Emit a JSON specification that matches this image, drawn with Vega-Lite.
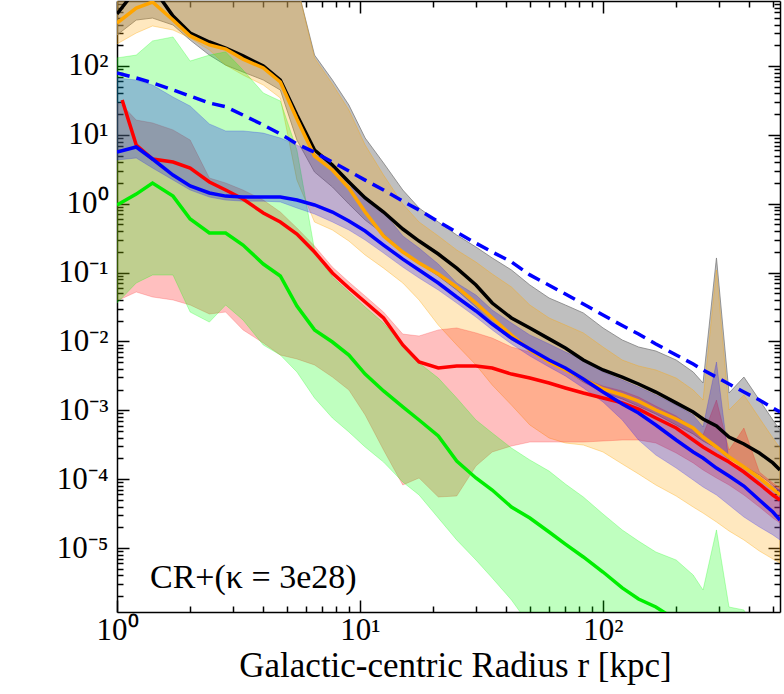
{
  "$schema": "https://vega.github.io/schema/vega-lite/v6.json",
  "description": "Radial profiles with 16-84 percentile bands, CR+ run",
  "width": 663,
  "height": 611,
  "autosize": "none",
  "padding": {"left": 117, "top": 1, "right": 4, "bottom": 82},
  "config": {
    "view": {"stroke": null},
    "font": "Liberation Serif",
    "axis": {"grid": false}
  },
  "datasets": {
    "black": [
      {"x": 1.0, "y": 569, "lo": 282, "hi": 20000},
      {"x": 1.2, "y": 1300, "lo": 465, "hi": 20000},
      {"x": 1.4, "y": 1400, "lo": 497, "hi": 20000},
      {"x": 1.7, "y": 532, "lo": 394, "hi": 20000},
      {"x": 2.0, "y": 301, "lo": 238, "hi": 20000},
      {"x": 2.4, "y": 223, "lo": 144, "hi": 20000},
      {"x": 2.8, "y": 182, "lo": 103, "hi": 20000},
      {"x": 3.3, "y": 140, "lo": 81.8, "hi": 20000},
      {"x": 4.0, "y": 100, "lo": 62.6, "hi": 13000},
      {"x": 4.7, "y": 62.6, "lo": 44.8, "hi": 4830},
      {"x": 5.5, "y": 19.4, "lo": 8.42, "hi": 1500},
      {"x": 6.5, "y": 6.03, "lo": 2.89, "hi": 144},
      {"x": 7.7, "y": 3.65, "lo": 1.75, "hi": 62.6},
      {"x": 9.0, "y": 2.07, "lo": 0.99, "hi": 27.1},
      {"x": 10.5, "y": 1.21, "lo": 0.58, "hi": 9.0},
      {"x": 12.5, "y": 0.758, "lo": 0.363, "hi": 3.9},
      {"x": 15, "y": 0.429, "lo": 0.206, "hi": 1.58},
      {"x": 17.5, "y": 0.287, "lo": 0.138, "hi": 0.866},
      {"x": 21, "y": 0.186, "lo": 0.0892, "hi": 0.542},
      {"x": 25, "y": 0.116, "lo": 0.0558, "hi": 0.351},
      {"x": 30, "y": 0.066, "lo": 0.0316, "hi": 0.235},
      {"x": 35, "y": 0.0361, "lo": 0.0173, "hi": 0.163},
      {"x": 42, "y": 0.0219, "lo": 0.0105, "hi": 0.109},
      {"x": 50, "y": 0.0157, "lo": 0.00751, "hi": 0.066},
      {"x": 60, "y": 0.0109, "lo": 0.0052, "hi": 0.0427},
      {"x": 70, "y": 0.00803, "lo": 0.00385, "hi": 0.0338},
      {"x": 83, "y": 0.00537, "lo": 0.00257, "hi": 0.0259},
      {"x": 100, "y": 0.00385, "lo": 0.00184, "hi": 0.0157},
      {"x": 120, "y": 0.00304, "lo": 0.00146, "hi": 0.0105},
      {"x": 140, "y": 0.00241, "lo": 0.00115, "hi": 0.0083},
      {"x": 165, "y": 0.00184, "lo": 0.000884, "hi": 0.00726},
      {"x": 200, "y": 0.00128, "lo": 0.000612, "hi": 0.00537},
      {"x": 235, "y": 0.000945, "lo": 0.000453, "hi": 0.0036},
      {"x": 258, "y": 0.000748, "lo": 0.000358, "hi": 0.00249},
      {"x": 293, "y": 0.000591, "lo": 0.000283, "hi": 0.163},
      {"x": 330, "y": 0.000409, "lo": 0.000196, "hi": 0.00178},
      {"x": 380, "y": 0.000324, "lo": 0.000155, "hi": 0.00304},
      {"x": 440, "y": 0.00024, "lo": 0.000115, "hi": 0.00141},
      {"x": 500, "y": 0.000172, "lo": 0.0000822, "hi": 0.000723},
      {"x": 535, "y": 0.000136, "lo": 0.0000651, "hi": 0.000517}
    ],
    "orange": [
      {"x": 1.0, "y": 421, "lo": 209, "hi": 20000},
      {"x": 1.2, "y": 695, "lo": 301, "hi": 20000},
      {"x": 1.4, "y": 849, "lo": 381, "hi": 20000},
      {"x": 1.7, "y": 465, "lo": 333, "hi": 20000},
      {"x": 2.0, "y": 273, "lo": 255, "hi": 20000},
      {"x": 2.4, "y": 202, "lo": 171, "hi": 20000},
      {"x": 2.8, "y": 176, "lo": 103, "hi": 20000},
      {"x": 3.3, "y": 126, "lo": 74, "hi": 20000},
      {"x": 4.0, "y": 93.5, "lo": 52.9, "hi": 13000},
      {"x": 4.7, "y": 58.6, "lo": 34.3, "hi": 4830},
      {"x": 5.5, "y": 17.0, "lo": 2.21, "hi": 1500},
      {"x": 6.5, "y": 4.93, "lo": 0.542, "hi": 131},
      {"x": 7.7, "y": 3.09, "lo": 0.415, "hi": 54.7},
      {"x": 9.0, "y": 1.69, "lo": 0.287, "hi": 22.95},
      {"x": 10.5, "y": 0.758, "lo": 0.18, "hi": 7.12},
      {"x": 12.5, "y": 0.34, "lo": 0.116, "hi": 2.61},
      {"x": 15, "y": 0.199, "lo": 0.0706, "hi": 0.99},
      {"x": 17.5, "y": 0.138, "lo": 0.04, "hi": 0.542},
      {"x": 21, "y": 0.0954, "lo": 0.0173, "hi": 0.34},
      {"x": 25, "y": 0.0617, "lo": 0.00888, "hi": 0.213},
      {"x": 30, "y": 0.0361, "lo": 0.00455, "hi": 0.142},
      {"x": 35, "y": 0.0219, "lo": 0.00233, "hi": 0.0954},
      {"x": 42, "y": 0.0124, "lo": 0.00119, "hi": 0.0617},
      {"x": 50, "y": 0.00751, "lo": 0.000612, "hi": 0.0338},
      {"x": 60, "y": 0.00503, "lo": 0.000396, "hi": 0.0219},
      {"x": 70, "y": 0.00385, "lo": 0.000335, "hi": 0.0173},
      {"x": 83, "y": 0.00285, "lo": 0.000313, "hi": 0.0133},
      {"x": 100, "y": 0.00204, "lo": 0.000248, "hi": 0.0083},
      {"x": 120, "y": 0.00167, "lo": 0.000166, "hi": 0.00537},
      {"x": 140, "y": 0.00136, "lo": 0.000119, "hi": 0.0044},
      {"x": 165, "y": 0.00101, "lo": 0.0000822, "hi": 0.00385},
      {"x": 200, "y": 0.000748, "lo": 0.0000569, "hi": 0.00294},
      {"x": 235, "y": 0.000553, "lo": 0.0000394, "hi": 0.00197},
      {"x": 258, "y": 0.000409, "lo": 0.0000322, "hi": 0.00141},
      {"x": 293, "y": 0.000293, "lo": 0.0000239, "hi": 0.109},
      {"x": 330, "y": 0.00021, "lo": 0.0000177, "hi": 0.00101},
      {"x": 380, "y": 0.00015, "lo": 0.0000131, "hi": 0.00167},
      {"x": 440, "y": 0.000104, "lo": 0.00000905, "hi": 0.000773},
      {"x": 500, "y": 0.000072, "lo": 0.00000693, "hi": 0.000396},
      {"x": 535, "y": 0.0000589, "lo": 0.00000606, "hi": 0.000283}
    ],
    "red": [
      {"x": 1.0, "y": null, "lo": 0.04, "hi": 29.0},
      {"x": 1.05, "y": 32.1, "lo": 0.042, "hi": 27.0},
      {"x": 1.2, "y": 7.12, "lo": 0.0522, "hi": 16.4},
      {"x": 1.4, "y": 4.46, "lo": 0.0442, "hi": 14.9},
      {"x": 1.7, "y": 4.03, "lo": 0.04, "hi": 11.8},
      {"x": 2.0, "y": 3.3, "lo": 0.0338, "hi": 8.42},
      {"x": 2.4, "y": 2.07, "lo": 0.025, "hi": 2.36},
      {"x": 2.8, "y": 1.58, "lo": 0.0267, "hi": 2.0},
      {"x": 3.3, "y": 1.17, "lo": 0.0147, "hi": 1.58},
      {"x": 4.0, "y": 0.733, "lo": 0.00949, "hi": 1.13},
      {"x": 4.7, "y": 0.542, "lo": 0.00635, "hi": 0.758},
      {"x": 5.5, "y": 0.363, "lo": 0.00556, "hi": 0.444},
      {"x": 6.5, "y": 0.199, "lo": 0.00455, "hi": 0.243},
      {"x": 7.7, "y": 0.0986, "lo": 0.00304, "hi": 0.12},
      {"x": 9.0, "y": 0.0597, "lo": 0.00197, "hi": 0.073},
      {"x": 10.5, "y": 0.0374, "lo": 0.000855, "hi": 0.0457},
      {"x": 12.5, "y": 0.0219, "lo": 0.000265, "hi": 0.0267},
      {"x": 15, "y": 0.00888, "lo": 0.0000822, "hi": 0.0128},
      {"x": 17.5, "y": 0.00503, "lo": 0.000104, "hi": 0.012},
      {"x": 21, "y": 0.00411, "lo": 0.0000551, "hi": 0.0147},
      {"x": 25, "y": 0.0044, "lo": 0.0000569, "hi": 0.0157},
      {"x": 30, "y": 0.0044, "lo": 0.000155, "hi": 0.0133},
      {"x": 35, "y": 0.00411, "lo": 0.000248, "hi": 0.0112},
      {"x": 42, "y": 0.00336, "lo": 0.000303, "hi": 0.0083},
      {"x": 50, "y": 0.00294, "lo": 0.000346, "hi": 0.00702},
      {"x": 60, "y": 0.00249, "lo": 0.000346, "hi": 0.00503},
      {"x": 70, "y": 0.00211, "lo": 0.000346, "hi": 0.00385},
      {"x": 83, "y": 0.00178, "lo": 0.000346, "hi": 0.00294},
      {"x": 100, "y": 0.00151, "lo": 0.000358, "hi": 0.00225},
      {"x": 120, "y": 0.00128, "lo": 0.00037, "hi": 0.00191},
      {"x": 140, "y": 0.00104, "lo": 0.00037, "hi": 0.00156},
      {"x": 165, "y": 0.000773, "lo": 0.000335, "hi": 0.00115},
      {"x": 200, "y": 0.000553, "lo": 0.00024, "hi": 0.000827},
      {"x": 235, "y": 0.00037, "lo": 0.000172, "hi": 0.000553},
      {"x": 258, "y": 0.000293, "lo": 0.000136, "hi": 0.000438},
      {"x": 293, "y": 0.000224, "lo": 0.000104, "hi": 0.00141},
      {"x": 330, "y": 0.000177, "lo": 0.0000822, "hi": 0.000265},
      {"x": 380, "y": 0.000127, "lo": 0.0000589, "hi": 0.000553},
      {"x": 440, "y": 0.000085, "lo": 0.0000394, "hi": 0.000127},
      {"x": 500, "y": 0.0000589, "lo": 0.0000273, "hi": 0.0000879},
      {"x": 535, "y": 0.0000498, "lo": 0.0000231, "hi": 0.0000744}
    ],
    "green": [
      {"x": 1.0, "y": 0.958, "lo": 0.0361, "hi": 131},
      {"x": 1.2, "y": 1.38, "lo": 0.0706, "hi": 144},
      {"x": 1.4, "y": 2.0, "lo": 0.0922, "hi": 231},
      {"x": 1.7, "y": 1.29, "lo": 0.0922, "hi": 264},
      {"x": 2.0, "y": 0.6, "lo": 0.0267, "hi": 118},
      {"x": 2.4, "y": 0.376, "lo": 0.0191, "hi": 144},
      {"x": 2.8, "y": 0.376, "lo": 0.0338, "hi": 160},
      {"x": 3.3, "y": 0.251, "lo": 0.0205, "hi": 87.4},
      {"x": 4.0, "y": 0.133, "lo": 0.00888, "hi": 40.5},
      {"x": 4.7, "y": 0.0892, "lo": 0.00635, "hi": 31.0},
      {"x": 5.5, "y": 0.0327, "lo": 0.0036, "hi": 6.03},
      {"x": 6.5, "y": 0.0147, "lo": 0.00151, "hi": 0.213},
      {"x": 7.7, "y": 0.00981, "lo": 0.000773, "hi": 0.0863},
      {"x": 9.0, "y": 0.00635, "lo": 0.000484, "hi": 0.0522},
      {"x": 10.5, "y": 0.00336, "lo": 0.000293, "hi": 0.0316},
      {"x": 12.5, "y": 0.00191, "lo": 0.000177, "hi": 0.0185},
      {"x": 15, "y": 0.00112, "lo": 0.0000909, "hi": 0.00888},
      {"x": 17.5, "y": 0.000723, "lo": 0.0000589, "hi": 0.00486},
      {"x": 21, "y": 0.000423, "lo": 0.0000273, "hi": 0.00294},
      {"x": 25, "y": 0.000183, "lo": 0.0000131, "hi": 0.00151},
      {"x": 30, "y": 0.000104, "lo": 0.0000067, "hi": 0.000723},
      {"x": 35, "y": 0.0000696, "lo": 0.00000367, "hi": 0.000468},
      {"x": 42, "y": 0.0000394, "lo": 0.00000176, "hi": 0.000283},
      {"x": 50, "y": 0.0000273, "lo": 0.00000075, "hi": 0.00019},
      {"x": 60, "y": 0.0000171, "lo": 0.0000003, "hi": 0.000131},
      {"x": 70, "y": 0.0000114, "lo": 0.0000003, "hi": 0.000085},
      {"x": 83, "y": 0.00000741, "lo": 0.0000003, "hi": 0.0000551},
      {"x": 100, "y": 0.00000448, "lo": 0.0000003, "hi": 0.0000312},
      {"x": 120, "y": 0.00000263, "lo": 0.0000003, "hi": 0.0000183},
      {"x": 140, "y": 0.00000182, "lo": 0.0000003, "hi": 0.0000126},
      {"x": 165, "y": 0.00000139, "lo": 0.0000003, "hi": 0.00000875},
      {"x": 200, "y": 0.0000009, "lo": 0.0000003, "hi": 0.0000067},
      {"x": 235, "y": null, "lo": 0.0000003, "hi": 0.00000406},
      {"x": 258, "y": null, "lo": 0.0000003, "hi": 0.00000246},
      {"x": 293, "y": null, "lo": 0.0000003, "hi": 0.0000183},
      {"x": 330, "y": null, "lo": 0.0000003, "hi": 0.00000139},
      {"x": 380, "y": null, "lo": 0.0000003, "hi": 0.00000126},
      {"x": 440, "y": null, "lo": 0.0000003, "hi": 0.0000005},
      {"x": 500, "y": null, "lo": 0.0000003, "hi": 0.00000035},
      {"x": 535, "y": null, "lo": 0.0000003, "hi": 0.00000032}
    ],
    "blue": [
      {"x": 1.0, "y": 5.64, "lo": 4.31, "hi": 66.9},
      {"x": 1.2, "y": 6.66, "lo": 4.61, "hi": 62.6},
      {"x": 1.4, "y": 4.46, "lo": 3.3, "hi": 52.9},
      {"x": 1.7, "y": 2.61, "lo": 2.21, "hi": 35.4},
      {"x": 2.0, "y": 1.81, "lo": 1.58, "hi": 26.2},
      {"x": 2.4, "y": 1.43, "lo": 1.25, "hi": 14.4},
      {"x": 2.8, "y": 1.29, "lo": 1.13, "hi": 11.4},
      {"x": 3.3, "y": 1.25, "lo": 1.09, "hi": 11.4},
      {"x": 4.0, "y": 1.25, "lo": 1.09, "hi": 10.6},
      {"x": 4.7, "y": 1.25, "lo": 1.06, "hi": 9.0},
      {"x": 5.5, "y": 1.13, "lo": 0.866, "hi": 7.12},
      {"x": 6.5, "y": 0.958, "lo": 0.709, "hi": 5.27},
      {"x": 7.7, "y": 0.758, "lo": 0.542, "hi": 3.65},
      {"x": 9.0, "y": 0.561, "lo": 0.415, "hi": 1.81},
      {"x": 10.5, "y": 0.401, "lo": 0.297, "hi": 1.29},
      {"x": 12.5, "y": 0.251, "lo": 0.192, "hi": 0.758},
      {"x": 15, "y": 0.157, "lo": 0.12, "hi": 0.34},
      {"x": 17.5, "y": 0.109, "lo": 0.0834, "hi": 0.227},
      {"x": 21, "y": 0.0706, "lo": 0.0558, "hi": 0.133},
      {"x": 25, "y": 0.0442, "lo": 0.0361, "hi": 0.0706},
      {"x": 30, "y": 0.0277, "lo": 0.0226, "hi": 0.0472},
      {"x": 35, "y": 0.0179, "lo": 0.0147, "hi": 0.0286},
      {"x": 42, "y": 0.0112, "lo": 0.00918, "hi": 0.0185},
      {"x": 50, "y": 0.00776, "lo": 0.00614, "hi": 0.0124},
      {"x": 60, "y": 0.00537, "lo": 0.00425, "hi": 0.00918},
      {"x": 70, "y": 0.00411, "lo": 0.00315, "hi": 0.00702},
      {"x": 83, "y": 0.00285, "lo": 0.00211, "hi": 0.00537},
      {"x": 100, "y": 0.00184, "lo": 0.00132, "hi": 0.0036},
      {"x": 120, "y": 0.00123, "lo": 0.000723, "hi": 0.00275},
      {"x": 140, "y": 0.000914, "lo": 0.00037, "hi": 0.00218},
      {"x": 165, "y": 0.000612, "lo": 0.000224, "hi": 0.00167},
      {"x": 200, "y": 0.00037, "lo": 0.000145, "hi": 0.00119},
      {"x": 235, "y": 0.000248, "lo": 0.0000972, "hi": 0.000855},
      {"x": 258, "y": 0.000203, "lo": 0.0000769, "hi": 0.000572},
      {"x": 293, "y": 0.000145, "lo": 0.0000589, "hi": 0.00503},
      {"x": 330, "y": 0.000111, "lo": 0.0000421, "hi": 0.000177},
      {"x": 380, "y": 0.0000795, "lo": 0.0000282, "hi": 0.000145},
      {"x": 440, "y": 0.0000498, "lo": 0.0000202, "hi": 0.000104},
      {"x": 500, "y": 0.0000333, "lo": 0.0000155, "hi": 0.0000795},
      {"x": 535, "y": 0.0000255, "lo": 0.0000131, "hi": 0.0000696}
    ],
    "dashed": [
      {"x": 1.0, "y": 79}, {"x": 1.2, "y": 67}, {"x": 1.4, "y": 57},
      {"x": 1.7, "y": 45}, {"x": 2.0, "y": 36.6}, {"x": 2.4, "y": 29},
      {"x": 2.8, "y": 25.6}, {"x": 3.3, "y": 19.4}, {"x": 4.0, "y": 13.9},
      {"x": 4.7, "y": 10.3}, {"x": 5.5, "y": 7.37}, {"x": 6.5, "y": 5.6},
      {"x": 7.7, "y": 4.03}, {"x": 9.0, "y": 2.99}, {"x": 10.5, "y": 2.2},
      {"x": 12.5, "y": 1.58}, {"x": 15, "y": 1.09}, {"x": 17.5, "y": 0.81},
      {"x": 21, "y": 0.55}, {"x": 25, "y": 0.387}, {"x": 30, "y": 0.267},
      {"x": 35, "y": 0.199}, {"x": 42, "y": 0.143}, {"x": 50, "y": 0.0925},
      {"x": 60, "y": 0.0656}, {"x": 70, "y": 0.0488}, {"x": 83, "y": 0.035},
      {"x": 100, "y": 0.0242}, {"x": 120, "y": 0.017}, {"x": 140, "y": 0.0128},
      {"x": 165, "y": 0.00918}, {"x": 200, "y": 0.00635}, {"x": 235, "y": 0.0047},
      {"x": 258, "y": 0.00385}, {"x": 293, "y": 0.00304}, {"x": 330, "y": 0.00241},
      {"x": 380, "y": 0.00184}, {"x": 440, "y": 0.00141}, {"x": 500, "y": 0.00108},
      {"x": 535, "y": 0.000945}
    ],
    "note": [
      {"x": 1.367, "y": 0.00000263, "t": "CR+(κ = 3e28)"}
    ]
  },
  "layer": [
    {
      "data": {"name": "black"},
      "mark": {"type": "area", "fill": "#808080", "fillOpacity": 0.5, "stroke": "#808080", "strokeOpacity": 0.8, "strokeWidth": 1, "clip": true},
      "encoding": {
        "x": {
          "field": "x", "type": "quantitative",
          "scale": {"type": "log", "domain": [1, 535], "nice": false},
          "axis": {
            "orient": "bottom",
            "values": [1, 2, 3, 4, 5, 6, 7, 8, 9, 10, 20, 30, 40, 50, 60, 70, 80, 90, 100, 200, 300, 400, 500],
            "labelExpr": "abs(log(datum.value)/LN10 - round(log(datum.value)/LN10)) < 0.01 ? ['10⁰','10¹','10²'][round(log(datum.value)/LN10)] : ''",
            "tickSize": {"condition": {"test": "abs(log(datum.value)/LN10 - round(log(datum.value)/LN10)) < 0.01", "value": -12}, "value": -6},
            "tickColor": "black", "tickWidth": 1.5,
            "domainColor": "black", "domainWidth": 1.5,
            "labelFont": "Liberation Serif", "labelFontSize": 31, "labelColor": "black",
            "labelPadding": 15, "labelOverlap": false, "labelFlush": false, "labelBound": false,
            "title": "Galactic-centric Radius r [kpc]",
            "titleFont": "Liberation Serif", "titleFontSize": 35, "titleFontWeight": "normal",
            "titleColor": "black", "titleBaseline": "alphabetic", "titleY": 64, "titleX": 338
          }
        },
        "y": {
          "field": "lo", "type": "quantitative",
          "scale": {"type": "log", "domain": [0.000001177, 878.6], "nice": false},
          "axis": {
            "orient": "left",
            "values": [0.000002, 0.000003, 0.000004, 0.000005, 0.000006, 0.000007, 0.000008, 0.000009, 0.00001, 0.00002, 0.00003, 0.00004, 0.00005, 0.00006, 0.00007, 0.00008, 0.00009, 0.0001, 0.0002, 0.0003, 0.0004, 0.0005, 0.0006, 0.0007, 0.0008, 0.0009, 0.001, 0.002, 0.003, 0.004, 0.005, 0.006, 0.007, 0.008, 0.009, 0.01, 0.02, 0.03, 0.04, 0.05, 0.06, 0.07, 0.08, 0.09, 0.1, 0.2, 0.3, 0.4, 0.5, 0.6, 0.7, 0.8, 0.9, 1, 2, 3, 4, 5, 6, 7, 8, 9, 10, 20, 30, 40, 50, 60, 70, 80, 90, 100, 200, 300, 400, 500, 600, 700, 800],
            "labelExpr": "abs(log(datum.value)/LN10 - round(log(datum.value)/LN10)) < 0.01 ? ['10⁻⁵','10⁻⁴','10⁻³','10⁻²','10⁻¹','10⁰','10¹','10²'][round(log(datum.value)/LN10) + 5] : ''",
            "tickSize": {"condition": {"test": "abs(log(datum.value)/LN10 - round(log(datum.value)/LN10)) < 0.01", "value": -12}, "value": -6},
            "tickColor": "black", "tickWidth": 1.5,
            "domainColor": "black", "domainWidth": 1.5,
            "labelFont": "Liberation Serif", "labelFontSize": 31, "labelColor": "black",
            "labelPadding": 21, "labelOverlap": false, "labelFlush": false, "labelBound": false,
            "title": null
          }
        },
        "y2": {"field": "hi"}
      }
    },
    {
      "data": {"name": "orange"},
      "mark": {"type": "area", "fill": "#FFA500", "fillOpacity": 0.25, "stroke": "#FFA500", "strokeOpacity": 0.35, "strokeWidth": 1, "clip": true},
      "encoding": {
        "x": {"field": "x", "type": "quantitative", "scale": {"type": "log", "domain": [1, 535], "nice": false}, "axis": null},
        "y": {"field": "lo", "type": "quantitative", "scale": {"type": "log", "domain": [0.000001177, 878.6], "nice": false}, "axis": null},
        "y2": {"field": "hi"}
      }
    },
    {
      "data": {"name": "red"},
      "mark": {"type": "area", "fill": "#FF0000", "fillOpacity": 0.25, "stroke": "#FF0000", "strokeOpacity": 0.2, "strokeWidth": 1, "clip": true},
      "encoding": {
        "x": {"field": "x", "type": "quantitative", "scale": {"type": "log", "domain": [1, 535], "nice": false}, "axis": null},
        "y": {"field": "lo", "type": "quantitative", "scale": {"type": "log", "domain": [0.000001177, 878.6], "nice": false}, "axis": null},
        "y2": {"field": "hi"}
      }
    },
    {
      "data": {"name": "green"},
      "mark": {"type": "area", "fill": "#00FF00", "fillOpacity": 0.25, "stroke": "#00FF00", "strokeOpacity": 0.25, "strokeWidth": 1, "clip": true},
      "encoding": {
        "x": {"field": "x", "type": "quantitative", "scale": {"type": "log", "domain": [1, 535], "nice": false}, "axis": null},
        "y": {"field": "lo", "type": "quantitative", "scale": {"type": "log", "domain": [0.000001177, 878.6], "nice": false}, "axis": null},
        "y2": {"field": "hi"}
      }
    },
    {
      "data": {"name": "blue"},
      "mark": {"type": "area", "fill": "#0000FF", "fillOpacity": 0.25, "stroke": "#0000FF", "strokeOpacity": 0.2, "strokeWidth": 1, "clip": true},
      "encoding": {
        "x": {"field": "x", "type": "quantitative", "scale": {"type": "log", "domain": [1, 535], "nice": false}, "axis": null},
        "y": {"field": "lo", "type": "quantitative", "scale": {"type": "log", "domain": [0.000001177, 878.6], "nice": false}, "axis": null},
        "y2": {"field": "hi"}
      }
    },
    {
      "data": {"name": "black"},
      "mark": {"type": "line", "color": "#000000", "strokeWidth": 3.5, "clip": true},
      "encoding": {
        "x": {"field": "x", "type": "quantitative", "scale": {"type": "log", "domain": [1, 535], "nice": false}, "axis": null},
        "y": {"field": "y", "type": "quantitative", "scale": {"type": "log", "domain": [0.000001177, 878.6], "nice": false}, "axis": null}
      }
    },
    {
      "data": {"name": "orange"},
      "mark": {"type": "line", "color": "#FFA500", "strokeWidth": 3.5, "clip": true},
      "encoding": {
        "x": {"field": "x", "type": "quantitative", "scale": {"type": "log", "domain": [1, 535], "nice": false}, "axis": null},
        "y": {"field": "y", "type": "quantitative", "scale": {"type": "log", "domain": [0.000001177, 878.6], "nice": false}, "axis": null}
      }
    },
    {
      "data": {"name": "red"},
      "mark": {"type": "line", "color": "#FF0000", "strokeWidth": 3.5, "clip": true},
      "encoding": {
        "x": {"field": "x", "type": "quantitative", "scale": {"type": "log", "domain": [1, 535], "nice": false}, "axis": null},
        "y": {"field": "y", "type": "quantitative", "scale": {"type": "log", "domain": [0.000001177, 878.6], "nice": false}, "axis": null}
      }
    },
    {
      "data": {"name": "green"},
      "mark": {"type": "line", "color": "#00EE00", "strokeWidth": 3.5, "clip": true},
      "encoding": {
        "x": {"field": "x", "type": "quantitative", "scale": {"type": "log", "domain": [1, 535], "nice": false}, "axis": null},
        "y": {"field": "y", "type": "quantitative", "scale": {"type": "log", "domain": [0.000001177, 878.6], "nice": false}, "axis": null}
      }
    },
    {
      "data": {"name": "blue"},
      "mark": {"type": "line", "color": "#0000FF", "strokeWidth": 3.5, "clip": true},
      "encoding": {
        "x": {"field": "x", "type": "quantitative", "scale": {"type": "log", "domain": [1, 535], "nice": false}, "axis": null},
        "y": {"field": "y", "type": "quantitative", "scale": {"type": "log", "domain": [0.000001177, 878.6], "nice": false}, "axis": null}
      }
    },
    {
      "data": {"name": "dashed"},
      "mark": {"type": "line", "color": "#0000FF", "strokeWidth": 3.5, "strokeDash": [13, 7], "clip": true},
      "encoding": {
        "x": {
          "field": "x", "type": "quantitative",
          "scale": {"type": "log", "domain": [1, 535], "nice": false},
          "axis": {
            "orient": "top",
            "values": [1, 2, 3, 4, 5, 6, 7, 8, 9, 10, 20, 30, 40, 50, 60, 70, 80, 90, 100, 200, 300, 400, 500],
            "labels": false,
            "tickSize": {"condition": {"test": "abs(log(datum.value)/LN10 - round(log(datum.value)/LN10)) < 0.01", "value": -12}, "value": -6},
            "tickColor": "black", "tickWidth": 1.5,
            "domainColor": "black", "domainWidth": 1.5,
            "title": null
          }
        },
        "y": {
          "field": "y", "type": "quantitative",
          "scale": {"type": "log", "domain": [0.000001177, 878.6], "nice": false},
          "axis": {
            "orient": "right",
            "values": [0.000002, 0.000003, 0.000004, 0.000005, 0.000006, 0.000007, 0.000008, 0.000009, 0.00001, 0.00002, 0.00003, 0.00004, 0.00005, 0.00006, 0.00007, 0.00008, 0.00009, 0.0001, 0.0002, 0.0003, 0.0004, 0.0005, 0.0006, 0.0007, 0.0008, 0.0009, 0.001, 0.002, 0.003, 0.004, 0.005, 0.006, 0.007, 0.008, 0.009, 0.01, 0.02, 0.03, 0.04, 0.05, 0.06, 0.07, 0.08, 0.09, 0.1, 0.2, 0.3, 0.4, 0.5, 0.6, 0.7, 0.8, 0.9, 1, 2, 3, 4, 5, 6, 7, 8, 9, 10, 20, 30, 40, 50, 60, 70, 80, 90, 100, 200, 300, 400, 500, 600, 700, 800],
            "labels": false,
            "tickSize": {"condition": {"test": "abs(log(datum.value)/LN10 - round(log(datum.value)/LN10)) < 0.01", "value": -12}, "value": -6},
            "tickColor": "black", "tickWidth": 1.5,
            "domainColor": "black", "domainWidth": 1.5,
            "title": null
          }
        }
      }
    },
    {
      "data": {"name": "note"},
      "mark": {"type": "text", "align": "left", "baseline": "alphabetic", "font": "Liberation Serif", "fontSize": 34, "color": "black"},
      "encoding": {
        "x": {"field": "x", "type": "quantitative", "scale": {"type": "log", "domain": [1, 535], "nice": false}, "axis": null},
        "y": {"field": "y", "type": "quantitative", "scale": {"type": "log", "domain": [0.000001177, 878.6], "nice": false}, "axis": null},
        "text": {"field": "t"}
      }
    }
  ],
  "resolve": {"axis": {"x": "independent", "y": "independent"}}
}
